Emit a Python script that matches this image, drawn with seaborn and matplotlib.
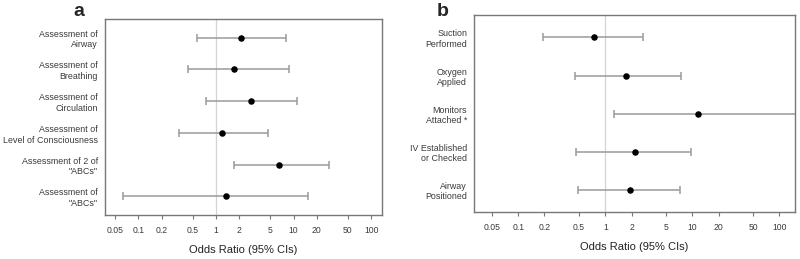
import numpy as np
import pandas as pd
import matplotlib
matplotlib.use("Agg")
import matplotlib.pyplot as plt
import seaborn as sns

sns.set_style("white")
plt.rcParams['font.family'] = ['Liberation Sans', 'DejaVu Sans']

# Panel a: assessments
labels_a = ["Assessment of\nAirway", "Assessment of\nBreathing", "Assessment of\nCirculation",
            "Assessment of\nLevel of Consciousness", "Assessment of 2 of\n\"ABCs\"",
            "Assessment of\n\"ABCs\""]
or_a = [2.12, 1.72, 2.86, 1.19, 6.43, 1.36]
lo_a = [0.57, 0.44, 0.75, 0.33, 1.71, 0.063]
hi_a = [7.99, 8.65, 11.2, 4.64, 28.3, 15.4]

# Panel b: interventions
labels_b = ["Suction\nPerformed", "Oxygen\nApplied", "Monitors\nAttached *",
            "IV Established\nor Checked", "Airway\nPositioned"]
or_b = [0.74, 1.71, 11.6, 2.17, 1.90]
lo_b = [0.19, 0.45, 1.27, 0.46, 0.49]
hi_b = [2.73, 7.45, 200.0, 9.7, 7.26]

xticks = [0.05, 0.1, 0.2, 0.5, 1, 2, 5, 10, 20, 50, 100]
xtick_labels = ["0.05", "0.1", "0.2", "0.5", "1", "2", "5", "10", "20", "50", "100"]

fig = plt.figure(figsize=(8, 2.59), dpi=100)
ax_a = fig.add_axes([0.131, 0.170, 0.3465, 0.757])
ax_b = fig.add_axes([0.5925, 0.181, 0.4015, 0.761])


def forest(ax, labels, ors, los, his, xlim, letter, letter_x):
    n = len(labels)
    df = pd.DataFrame({"label": labels, "or": ors, "lo": los, "hi": his})
    df["pos"] = np.arange(n)[::-1]
    ax.axvline(1, color="#d4d4d4", lw=0.9, zorder=0)
    ax.errorbar(df["or"], df["pos"],
                xerr=[df["or"] - df["lo"], df["hi"] - df["or"]],
                fmt="none", ecolor="#9a9a9a", elinewidth=1.1, capsize=3, capthick=1.1, zorder=1)
    sns.scatterplot(data=df, x="or", y="pos", ax=ax, color="black", s=22,
                    edgecolor="black", linewidth=0, zorder=3, legend=False)
    ax.set_xscale("log")
    ax.set_xlim(*xlim)
    ax.set_ylim(-0.59, n - 1 + 0.59)
    ax.set_xticks(xticks)
    ax.set_xticklabels(xtick_labels)
    ax.minorticks_off()
    ax.set_yticks(df["pos"])
    ax.set_yticklabels(df["label"], fontsize=6.4, color="#3a3a3a", linespacing=1.25)
    ax.tick_params(axis="x", labelsize=6.2, labelcolor="#3a3a3a", color="#777777",
                   length=3, width=0.8, direction="out", bottom=True, pad=5)
    ax.tick_params(axis="y", length=0, pad=5)
    for s in ax.spines.values():
        s.set_color("#777777")
        s.set_linewidth(1.0)
    ax.set_xlabel("Odds Ratio (95% CIs)", fontsize=8, labelpad=7, color="#222222")
    ax.set_ylabel("")
    fig.text(letter_x, 0.955, letter, fontsize=14, fontweight="bold", ha="center", va="center")


forest(ax_a, labels_a, or_a, lo_a, hi_a, (0.037, 138), "a", 0.099)
forest(ax_b, labels_b, or_b, lo_b, hi_b, (0.031, 152), "b", 0.553)

fig.savefig("out.png", dpi=100)
